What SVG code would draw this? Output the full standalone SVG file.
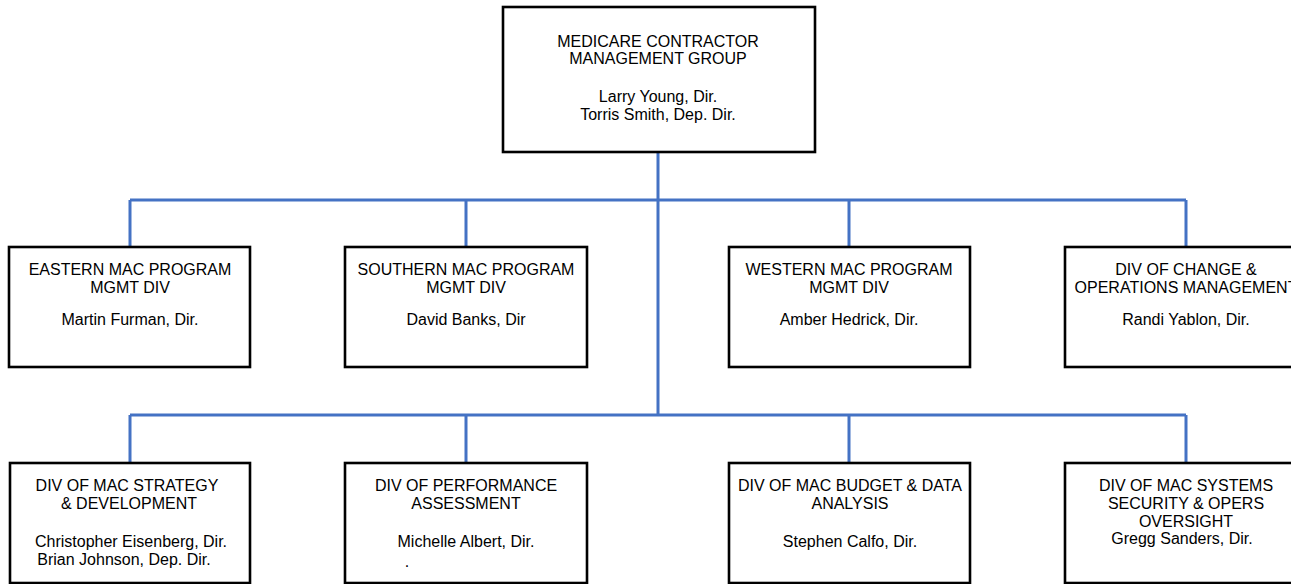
<svg xmlns="http://www.w3.org/2000/svg" width="1291" height="584" viewBox="0 0 1291 584">
<style>
.box{fill:#fff;stroke:#000;stroke-width:2.6}
.t{font-family:"Liberation Sans",Arial,sans-serif;font-size:16px;fill:#000;text-anchor:middle}
.c{stroke:#4472C4;stroke-width:3;fill:none}
</style>
<rect width="1291" height="584" fill="#fff"/>
<g id="connectors">
<path class="c" d="M658,152V415"/>
<path class="c" d="M130,200H1186M130,200V247M466,200V247M849,200V247M1186,200V247"/>
<path class="c" d="M130,415H1186M130,415V463M466,415V463M849,415V463M1186,415V463"/>
</g>
<g id="mcmg">
<rect class="box" x="503" y="7" width="312" height="145"/>
<text class="t" x="658" y="47">MEDICARE CONTRACTOR</text>
<text class="t" x="658" y="64">MANAGEMENT GROUP</text>
<text class="t" x="658" y="102">Larry Young, Dir.</text>
<text class="t" x="658" y="120">Torris Smith, Dep. Dir.</text>
</g>
<g id="eastern">
<rect class="box" x="9" y="247" width="241" height="120"/>
<text class="t" x="130" y="275">EASTERN MAC PROGRAM</text>
<text class="t" x="130" y="293">MGMT DIV</text>
<text class="t" x="130" y="325">Martin Furman, Dir.</text>
</g>
<g id="southern">
<rect class="box" x="345" y="247" width="242" height="120"/>
<text class="t" x="466" y="275">SOUTHERN MAC PROGRAM</text>
<text class="t" x="466" y="293">MGMT DIV</text>
<text class="t" x="466" y="325">David Banks, Dir</text>
</g>
<g id="western">
<rect class="box" x="729" y="247" width="241" height="120"/>
<text class="t" x="849" y="275">WESTERN MAC PROGRAM</text>
<text class="t" x="849" y="293">MGMT DIV</text>
<text class="t" x="849" y="325">Amber Hedrick, Dir.</text>
</g>
<g id="change">
<rect class="box" x="1065" y="247" width="241" height="120"/>
<text class="t" x="1186" y="275">DIV OF CHANGE &amp;</text>
<text class="t" x="1186" y="293">OPERATIONS MANAGEMENT</text>
<text class="t" x="1186" y="325">Randi Yablon, Dir.</text>
</g>
<g id="strategy">
<rect class="box" x="10" y="463" width="240" height="120"/>
<text class="t" x="127" y="491">DIV OF MAC STRATEGY</text>
<text class="t" x="129" y="509">&amp; DEVELOPMENT</text>
<text class="t" x="131" y="547">Christopher Eisenberg, Dir.</text>
<text class="t" x="124" y="565">Brian Johnson, Dep. Dir.</text>
</g>
<g id="performance">
<rect class="box" x="345" y="463" width="242" height="120"/>
<text class="t" x="466" y="491">DIV OF PERFORMANCE</text>
<text class="t" x="466" y="509">ASSESSMENT</text>
<text class="t" x="466" y="547">Michelle Albert, Dir.</text>
<text class="t" x="407" y="567">.</text>
</g>
<g id="budget">
<rect class="box" x="729" y="463" width="241" height="120"/>
<text class="t" x="850" y="491">DIV OF MAC BUDGET &amp; DATA</text>
<text class="t" x="850" y="509">ANALYSIS</text>
<text class="t" x="850" y="547">Stephen Calfo, Dir.</text>
</g>
<g id="systems">
<rect class="box" x="1065" y="463" width="241" height="120"/>
<text class="t" x="1186" y="491">DIV OF MAC SYSTEMS</text>
<text class="t" x="1186" y="509">SECURITY &amp; OPERS</text>
<text class="t" x="1186" y="527">OVERSIGHT</text>
<text class="t" x="1182" y="544">Gregg Sanders, Dir.</text>
</g>
</svg>
